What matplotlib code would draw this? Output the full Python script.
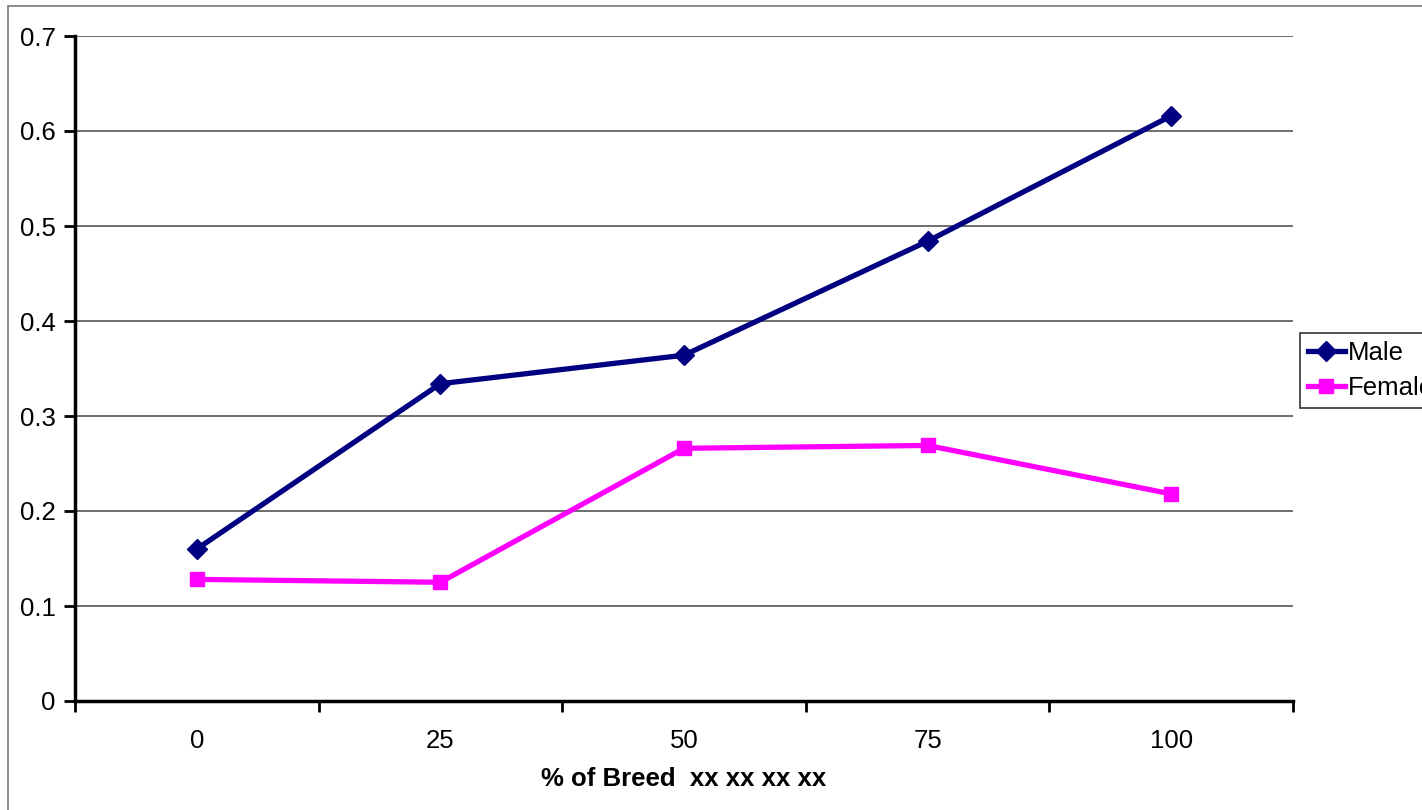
import matplotlib.pyplot as plt
from matplotlib.patches import Rectangle

plt.rcParams['font.family'] = ['Liberation Sans', 'DejaVu Sans']

# data
breed_pct = [0, 25, 50, 75, 100]
male = [0.160, 0.334, 0.364, 0.484, 0.616]
female = [0.128, 0.125, 0.266, 0.269, 0.218]
y_ticks = [0, 0.1, 0.2, 0.3, 0.4, 0.5, 0.6, 0.7]

W, H = 1422, 810
fs = 18.5
fig = plt.figure(figsize=(W / 100, H / 100), dpi=100)
ax = fig.add_axes([75 / W, 1 - 701 / H, 1218 / W, 665 / H])

# chart area border
fig.patches.append(Rectangle((8 / W, -0.1), 2, 1 - 6 / H + 0.1, transform=fig.transFigure,
                             fill=False, edgecolor='#777777', lw=1.2))

ax.plot(breed_pct, male, color='#000080', lw=3.8, marker='D', ms=10,
        label='Male', zorder=3)
ax.plot(breed_pct, female, color='#FF00FF', lw=3.8, marker='s', ms=10,
        label='Female', zorder=3)

ax.set_xlim(-12.5, 112.5)
ax.set_ylim(0, 0.7)
ax.set_yticks(y_ticks)
ax.set_yticklabels(['0'] + [f'{v:.1f}' for v in y_ticks[1:]])
ax.yaxis.grid(True, color='#555555', lw=1.2)
ax.set_axisbelow(True)

# category ticks sit between categories, labels at the categories
ax.set_xticks([p - 12.5 for p in breed_pct] + [112.5])
ax.set_xticklabels([])
ax.set_xticks(breed_pct, minor=True)
ax.set_xticklabels([str(p) for p in breed_pct], minor=True)
ax.tick_params(axis='x', which='minor', length=0, pad=20, labelsize=fs)
ax.tick_params(axis='x', which='major', length=8, width=2, direction='out')
ax.tick_params(axis='y', length=8, width=2, direction='out', labelsize=fs, pad=6)

for s in ['top', 'right']:
    ax.spines[s].set_visible(False)
for s in ['left', 'bottom']:
    ax.spines[s].set_linewidth(2.5)
    ax.spines[s].set_color('black')

ax.set_xlabel('% of Breed  xx xx xx xx', fontsize=fs, fontweight='bold', labelpad=10)

leg = fig.legend(loc='upper left', bbox_to_anchor=(1300 / W, 1 - 333 / H),
                 fontsize=fs, frameon=True, fancybox=False, edgecolor='black',
                 handlelength=1.45, handletextpad=0.1, borderpad=0.3,
                 labelspacing=0.45, borderaxespad=0)
leg.get_frame().set_linewidth(1.2)

fig.savefig('out.png', dpi=100)
